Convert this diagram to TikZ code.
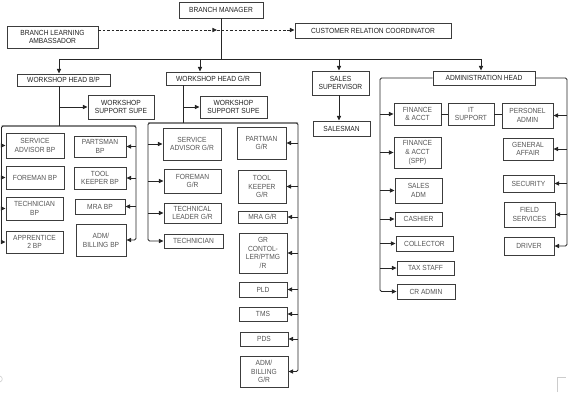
\documentclass[tikz,border=0pt]{standalone}
\usepackage{fontspec}
\setmainfont{Liberation Sans}[FakeStretch=0.9]
\usetikzlibrary{arrows.meta}
\definecolor{boxline}{HTML}{3C3C3C}
\definecolor{headtext}{HTML}{222222}
\definecolor{subtext}{HTML}{555555}
\newcommand\mybox[7][sub]{\node[#1, minimum width={(#5-#3)*1pt}, minimum height={(#6-#4)*1pt}] (#2) at ({(#3+#5)/2},{(#4+#6)/2}) {#7};}
\begin{document}
\begin{tikzpicture}[x=1pt,y=-1pt,
  basebox/.style={draw=boxline, line width=0.9pt, inner sep=0pt, align=center,
    font=\fontsize{7.4}{8.8}\selectfont},
  head/.style={basebox, text=headtext},
  sub/.style={basebox, text=subtext},
  ln/.style={draw=black!85, line width=0.85pt, rounded corners=1.5pt},
  arr/.style={ln, -{Triangle[length=4.6pt,width=4.2pt]}},
  dsh/.style={draw=black!85, line width=0.85pt, dash pattern=on 2.6pt off 1.8pt, -{Triangle[length=4.6pt,width=4.2pt]}},
  cornermark/.style={draw=black!20, line width=0.6pt}]
\useasboundingbox (0,0) rectangle (569,406);

% top level
\mybox[head]{bm}{179}{2}{263}{18}{BRANCH MANAGER}
\mybox[head]{bla}{7}{26}{98}{48}{BRANCH LEARNING\\AMBASSADOR}
\mybox[head]{crc}{295}{23}{451}{38}{CUSTOMER RELATION COORDINATOR}
\mybox[head]{whbp}{17}{74}{110}{86}{WORKSHOP HEAD B/P}
\mybox[head]{whgr}{166}{72}{260}{85}{WORKSHOP HEAD G/R}
\mybox[head]{ss}{312}{71}{369}{95}{SALES\\SUPERVISOR}
\mybox[head]{ah}{433}{71}{535}{85}{ADMINISTRATION HEAD}
\mybox[head]{wssbp}{88}{95}{154}{119}{WORKSHOP\\SUPPORT SUPE}
\mybox[head]{wssgr}{200}{96}{267}{118}{WORKSHOP\\SUPPORT SUPE}
\mybox[head]{salesman}{313}{121}{370}{136}{SALESMAN}

% B/P
\mybox{sabp}{6}{133}{64}{158}{SERVICE\\ADVISOR BP}
\mybox{fmbp}{6}{166}{64}{189}{FOREMAN BP}
\mybox{tcbp}{6}{197}{63}{220}{TECHNICIAN\\BP}
\mybox{apbp}{6}{231}{63}{253}{APPRENTICE\\2 BP}
\mybox{ptbp}{74}{136}{126}{157}{PARTSMAN\\BP}
\mybox{tkbp}{74}{167}{126}{189}{TOOL\\KEEPER BP}
\mybox{mrbp}{75}{199}{125}{214}{MRA BP}
\mybox{abbp}{76}{224}{126}{256}{ADM/\\BILLING BP}

% G/R
\mybox{sagr}{163}{128}{221}{160}{SERVICE\\ADVISOR G/R}
\mybox{fmgr}{164}{169}{221}{193}{FOREMAN\\G/R}
\mybox{tlgr}{164}{203}{221}{223}{TECHNICAL\\LEADER G/R}
\mybox{tcgr}{164}{234}{223}{248}{TECHNICIAN}
\mybox{ptgr}{237}{127}{286}{159}{PARTMAN\\G/R}
\mybox{tkgr}{238}{170}{286}{203}{TOOL\\KEEPER\\G/R}
\mybox{mrgr}{238}{211}{287}{223}{MRA G/R}
\mybox{gcgr}{239}{233}{287}{273}{GR\\CONTOL-\\LER/PTMG\\/R}
\mybox{pld}{239}{282}{287}{297}{PLD}
\mybox{tms}{239}{307}{287}{321}{TMS}
\mybox{pds}{240}{332}{288}{346}{PDS}
\mybox{abgr}{240}{356}{288}{387}{ADM/\\BILLING\\G/R}

% Administration
\mybox{fa}{394}{103}{441}{125}{FINANCE\\\& ACCT}
\mybox{it}{448}{103}{494}{125}{IT\\SUPPORT}
\mybox{pa}{502}{103}{553}{128}{PERSONEL\\ADMIN}
\mybox{faspp}{394}{137}{441}{168}{FINANCE\\\& ACCT\\(SPP)}
\mybox{sadm}{395}{178}{442}{203}{SALES\\ADM}
\mybox{cash}{395}{212}{442}{226}{CASHIER}
\mybox{coll}{396}{236}{453}{251}{COLLECTOR}
\mybox{tax}{397}{261}{454}{275}{TAX STAFF}
\mybox{cra}{397}{284}{455}{299}{CR ADMIN}
\mybox{ga}{503}{138}{553}{160}{GENERAL\\AFFAIR}
\mybox{sec}{503}{175}{554}{192}{SECURITY}
\mybox{fs}{504}{202}{555}{227}{FIELD\\SERVICES}
\mybox{drv}{504}{237}{554}{255}{DRIVER}

% top connectors
\coordinate (hL) at (59,59);
\coordinate (hR) at (481,59);
\draw[ln] (bm.south) -- (bm.south |- hL);
\draw[ln] (hL) -- (hR);
\draw[arr] (hL) -- (hL |- whbp.north);
\draw[arr] (200,59) coordinate (h2) -- (h2 |- whgr.north);
\draw[arr] (339,59) coordinate (h3) -- (h3 |- ss.north);
\draw[arr] (hR) -- (hR |- ah.north);
\coordinate (dj) at (217,30);
\draw[dsh] (bla.east |- dj) -- (dj);
\draw[dsh] (dj) -- (dj -| crc.west);

% B/P connectors
\coordinate (bl) at (1.5,126);
\coordinate (br) at (136,126);
\draw[ln] (hL |- whbp.south) -- (hL |- bl);
\draw[arr] (hL |- wssbp.west) -- (wssbp.west);
\draw[arr] (br) -- (bl) |- (apbp.west);
\draw[arr] (bl) -- (br) |- (abbp.east);
\draw[arr] (bl |- sabp.west) -- (sabp.west);
\draw[arr] (bl |- fmbp.west) -- (fmbp.west);
\draw[arr] (bl |- tcbp.west) -- (tcbp.west);
\draw[arr] (br |- ptbp.east) -- (ptbp.east);
\draw[arr] (br |- tkbp.east) -- (tkbp.east);
\draw[arr] (br |- mrbp.east) -- (mrbp.east);

% G/R connectors
\coordinate (gv) at (183,123);
\coordinate (gl) at (148,123);
\coordinate (gr) at (298,123);
\draw[ln] (gv |- whgr.south) -- (gv);
\draw[arr] (gv |- wssgr.west) -- (wssgr.west);
\draw[arr] (gr) -- (gl) |- (tcgr.west);
\draw[arr] (gl) -- (gr) |- (abgr.east);
\draw[arr] (gl |- sagr.west) -- (sagr.west);
\draw[arr] (gl |- fmgr.west) -- (fmgr.west);
\draw[arr] (gl |- tlgr.west) -- (tlgr.west);
\draw[arr] (gr |- ptgr.east) -- (ptgr.east);
\draw[arr] (gr |- tkgr.east) -- (tkgr.east);
\draw[arr] (gr |- mrgr.east) -- (mrgr.east);
\draw[arr] (gr |- gcgr.east) -- (gcgr.east);
\draw[arr] (gr |- pld.east) -- (pld.east);
\draw[arr] (gr |- tms.east) -- (tms.east);
\draw[arr] (gr |- pds.east) -- (pds.east);

% Sales
\draw[arr] (h3 |- ss.south) -- (h3 |- salesman.north);

% Admin connectors
\coordinate (al) at (380,78);
\coordinate (ar) at (567,78);
\draw[arr] (ah.west) -- (al) |- (cra.west);
\draw[arr] (ah.east) -- (ar) |- (drv.east);
\draw[arr] (al |- fa.west) -- (fa.west);
\draw[arr] (al |- faspp.west) -- (faspp.west);
\draw[arr] (al |- sadm.west) -- (sadm.west);
\draw[arr] (al |- cash.west) -- (cash.west);
\draw[arr] (al |- coll.west) -- (coll.west);
\draw[arr] (al |- tax.west) -- (tax.west);
\draw[arr] (ar |- pa.east) -- (pa.east);
\draw[arr] (ar |- ga.east) -- (ga.east);
\draw[arr] (ar |- sec.east) -- (sec.east);
\draw[arr] (ar |- fs.east) -- (fs.east);
\draw[ln] (fa.east) -- (it.west);
\draw[ln] (it.east) -- (it.east -| pa.west);

% faint corner marks
\draw[cornermark] (0,376) .. controls (3,377) and (3,381) .. (0,382);
\draw[cornermark] (557,392) -- (557,377) -- (566,377);
\end{tikzpicture}
\end{document}
